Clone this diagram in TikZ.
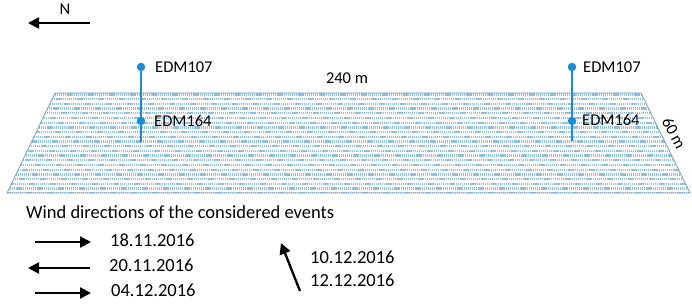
\documentclass[tikz,border=0pt]{standalone}
\usepackage{fontspec}
\setmainfont{Carlito}
\usetikzlibrary{arrows.meta}
\definecolor{sensor}{RGB}{28,140,212}
\definecolor{hatch}{RGB}{145,190,220}
\definecolor{edge}{RGB}{120,160,190}
\tikzset{
  lbl/.style={font=\fontsize{16.5}{18}\selectfont, inner sep=0pt, anchor=west},
  leg/.style={font=\fontsize{18.5}{21}\selectfont, inner sep=0pt, anchor=west},
  dot/.style={circle, fill=sensor, minimum size=8.5pt, inner sep=0pt},
  wind/.style={line width=2.3pt, -{Triangle[length=11pt,width=11pt]}},
  mast/.style={sensor, line width=2pt}
}
\begin{document}
\begin{tikzpicture}[x=1pt,y=-1pt]
\useasboundingbox (0,0) rectangle (692,305);
% field
\coordinate (tl) at (55,93);
\coordinate (tr) at (641,93);
\coordinate (br) at (690,193);
\coordinate (bl) at (7,193);
\begin{scope}
\clip (tl) -- (tr) -- (br) -- (bl) -- cycle;
\foreach \i in {0,...,21} {
  \pgfmathsetmacro{\yy}{94.5+4.7*\i}
  \pgfmathsetmacro{\ph}{0.45*\i}
  \draw[hatch, line width=2.3pt, dash pattern=on 1.3pt off 0.8pt, dash phase=\ph pt] (0,\yy) -- (692,\yy);
}
\end{scope}
\draw[edge, line width=0.8pt] (tl) -- (tr) -- (br) -- (bl) -- cycle;
% north arrow
\coordinate (n1) at (90,23);
\coordinate (n2) at (28,23);
\draw[wind] (n1) -- (n2);
\node[lbl, anchor=center] (N) at (65,9) {N};
% dimensions
\node[lbl, anchor=center] (len) at (347,78) {240 m};
\node[lbl, anchor=center, rotate=-62] (wid) at (674,133) {60\,m};
% left mast
\node[dot] (l107) at (141,67) {};
\node[dot] (l164) at (141,121) {};
\coordinate (lbot) at (141,142);
\draw[mast] (l107) -- (l164) -- (lbot);
\node[lbl] (tl107) at (155,67) {EDM107};
\node[lbl] (tl164) at (154,121) {EDM164};
% right mast
\node[dot] (r107) at (572,67) {};
\node[dot] (r164) at (572,121) {};
\coordinate (rbot) at (572,141);
\draw[mast] (r107) -- (r164) -- (rbot);
\node[lbl] (tr107) at (583,67) {EDM107};
\node[lbl] (tr164) at (582,120) {EDM164};
% legend
\node[leg] (title) at (26,212) {Wind directions of the considered events};
\coordinate (a1s) at (35,242); \coordinate (a1e) at (91,242);
\draw[wind] (a1s) -- (a1e);
\node[leg] (d1) at (110,240) {18.11.2016};
\coordinate (a2s) at (90,268); \coordinate (a2e) at (28,268);
\draw[wind] (a2s) -- (a2e);
\node[leg] (d2) at (109,265) {20.11.2016};
\coordinate (a3s) at (35,293); \coordinate (a3e) at (91,293);
\draw[wind] (a3s) -- (a3e);
\node[leg] (d3) at (111,290) {04.12.2016};
\coordinate (a4s) at (300,291); \coordinate (a4e) at (281,243);
\draw[wind] (a4s) -- (a4e);
\node[leg] (d4) at (310,257) {10.12.2016};
\node[leg] (d5) at (310,280) {12.12.2016};
\end{tikzpicture}
\end{document}
